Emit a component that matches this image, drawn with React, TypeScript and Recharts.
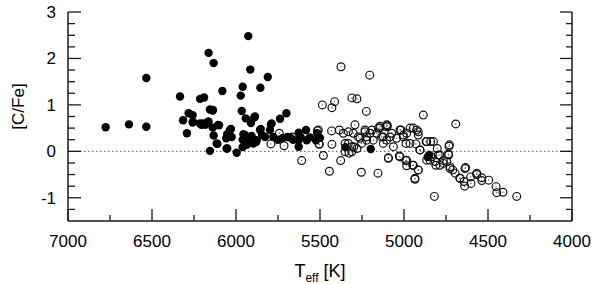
import { ScatterChart, Scatter, XAxis, YAxis, ReferenceLine, Label } from 'recharts'

// Teff [K] and [C/Fe] for the filled (dwarf) sample
const filledTeff = [
  6776, 6637, 6534, 6534, 6333, 6315, 6292, 6282, 6258, 6258, 6214, 6190, 6206, 6183, 6163, 6133,
  6155, 6139, 6163, 6139, 6133, 6111, 6155, 6101, 6081, 6058, 6052, 6030, 6052, 5996, 5972, 5960,
  5966, 5942, 5927, 5915, 5911, 5891, 5956, 5950, 5960, 5936, 5907, 5897, 5877, 5855, 5811, 5853,
  5845, 5827, 5792, 5798, 5778, 5738, 5700, 5722, 5694, 5679, 5627, 5627, 5627, 5615, 5583, 5579,
  5560, 5524, 5516, 5500, 5349, 5198, 4859, 4850, 5905, 5880, 5930, 5960, 5750, 5660, 6256, 6214,
  6196, 6167, 6137, 6107, 6115, 6056, 6036, 6026, 5946, 5887, 5857, 5788,
]
const filledCFe = [
  0.52, 0.58, 0.53, 1.58, 1.18, 0.67, 0.39, 0.82, 0.78, 0.62, 1.13, 1.16, 0.57, 0.57, 2.12, 1.9,
  0.9, 0.88, 0.64, 0.51, 0.34, 0.16, 0.01, 0.56, 1.3, 0.28, 0.37, 0.48, 0.06, -0.03, 1.2, 1.39,
  0.87, 0.71, 2.48, 1.76, 0.61, 0.73, 0.37, 0.21, 0.09, 0.14, 0.33, 0.17, 0.24, 1.37, 1.6, 0.48,
  0.35, 0.31, 0.58, 0.46, 0.31, 0.7, 0.82, 0.29, 0.31, 0.3, 0.4, 0.24, 0.1, 0.31, 0.46, 0.24,
  0.3, 0.24, 0.39, 0.29, 0.09, 0.05, -0.12, -0.08, 0.25, 0.2, 0.27, 0.25, 0.25, 0.25, 0.64, 0.6,
  0.6, 0.64, 0.89, 0.57, 0.17, 0.06, 0.46, 0.31, 0.35, 0.75, 0.46, 0.6,
]

// Teff [K] and [C/Fe] for the open (giant) sample
const openTeff = [
  5792, 5742, 5714, 5665, 5609, 5510, 5506, 5375, 5204, 5486, 5429, 5413, 5310, 5280, 5224, 4885,
  4692, 5516, 5504, 5480, 5444, 5429, 5431, 5385, 5377, 5361, 5331, 5351, 5327, 5311, 5292, 5298,
  5272, 5254, 5252, 5232, 5222, 5202, 5183, 5155, 5153, 5143, 5099, 5133, 5123, 5103, 5093, 5073,
  5063, 5044, 5028, 5018, 5004, 4988, 4984, 4964, 4990, 4984, 4948, 4935, 4915, 4925, 4915, 4929,
  4905, 4869, 4841, 4865, 4835, 4819, 4810, 4802, 4786, 4766, 4746, 4732, 4734, 4726, 4710, 4696,
  4667, 4633, 4643, 4639, 4601, 4603, 4567, 4537, 4537, 4496, 4452, 4448, 4411, 4329, 5302, 5262,
  5232, 5222, 5192, 5163, 5143, 5123, 5103, 5331, 5311, 5280, 5351, 5103, 5024, 4945, 4915, 5083,
  5004, 4964, 4865, 4825, 4730, 4905, 4796, 4736, 5024, 5093, 4984, 4945, 4915, 4935, 4766, 4726,
  4637, 4667, 4567, 4845, 4815, 4786,
]
const openCFe = [
  0.16, 0.39, 0.12, 0.31, -0.2, 0.46, 0.16, 1.82, 1.64, 1.0, 0.94, 1.07, 1.15, 1.13, 0.86, 0.78,
  0.59, 0.44, 0.15, -0.09, -0.43, 0.15, 0.44, 0.46, -0.2, 0.39, 0.42, 0.17, -0.04, -0.01, 0.57, 0.1,
  0.31, -0.45, 0.17, 0.46, 0.31, 0.39, 0.24, -0.47, 0.5, 0.54, 0.55, 0.31, 0.17, 0.24, -0.14, 0.39,
  0.1, 0.28, -0.1, 0.46, 0.35, 0.17, 0.39, 0.5, -0.2, -0.31, -0.3, -0.6, -0.4, 0.46, 0.35, 0.16,
  0.03, 0.21, 0.21, -0.19, -0.12, -0.97, -0.3, 0.06, -0.08, -0.2, -0.22, 0.11, -0.08, -0.33, -0.4, -0.47,
  -0.58, -0.35, -0.65, -0.75, -0.69, -0.55, -0.5, -0.57, -0.63, -0.62, -0.76, -0.89, -0.88, -0.97, 0.39, 0.28,
  0.42, 0.24, 0.46, 0.39, 0.5, 0.31, 0.53, 0.17, 0.1, 0.06, -0.01, 0.57, 0.46, 0.5, 0.42, 0.31,
  0.31, 0.17, 0.21, 0.21, 0.14, 0.03, -0.08, -0.06, -0.12, -0.15, -0.19, -0.3, -0.4, -0.58, -0.26, -0.37,
  -0.37, -0.58, -0.47, -0.19, -0.22, -0.3,
]

const xTicks = [4000, 4250, 4500, 4750, 5000, 5250, 5500, 5750, 6000, 6250, 6500, 6750, 7000]
const xLabelled = [4000, 4500, 5000, 5500, 6000, 6500, 7000]
const yTicks = [-1.25, -1, -0.75, -0.5, -0.25, 0, 0.25, 0.5, 0.75, 1, 1.25, 1.5, 1.75, 2, 2.25, 2.5, 2.75, 3]
const yLabelled = [-1, 0, 1, 2, 3]

const FONT = '"Liberation Sans", Arial, Helvetica, sans-serif'
const INK = '#1a1a1a'

const filled = filledTeff.map((t, i) => ({ t, c: filledCFe[i] }))
const open = openTeff.map((t, i) => ({ t, c: openCFe[i] }))

function FilledDot(props: any) {
  const { cx, cy } = props
  return <circle cx={cx} cy={cy} r={4.2} fill="#000" />
}

function OpenDot(props: any) {
  const { cx, cy } = props
  return (
    <g>
      <circle cx={cx} cy={cy} r={3.9} fill="none" stroke="#111" strokeWidth={1.2} />
      <circle cx={cx} cy={cy} r={0.6} fill="#333" />
    </g>
  )
}

// ticks point inward; labels only on majors
function BottomTick({ x, y, payload }: any) {
  const major = xLabelled.includes(payload.value)
  return (
    <g>
      <line x1={x} y1={y} x2={x} y2={y - (major ? 12 : 6)} stroke={INK} strokeWidth={1.3} />
      {major && (
        <text x={x} y={y + 26} textAnchor="middle" fontSize={17} fontFamily={FONT} fill="#000">
          {payload.value}
        </text>
      )}
    </g>
  )
}

function TopTick({ x, y, payload }: any) {
  const major = xLabelled.includes(payload.value)
  return <line x1={x} y1={y} x2={x} y2={y + (major ? 12 : 6)} stroke={INK} strokeWidth={1.3} />
}

function LeftTick({ x, y, payload }: any) {
  const major = yLabelled.includes(payload.value)
  return (
    <g>
      <line x1={x} y1={y} x2={x + (major ? 13 : 7)} y2={y} stroke={INK} strokeWidth={1.3} />
      {major && (
        <text x={x - 12} y={y} dy="0.35em" textAnchor="end" fontSize={17} fontFamily={FONT} fill="#000">
          {payload.value}
        </text>
      )}
    </g>
  )
}

function RightTick({ x, y, payload }: any) {
  const major = yLabelled.includes(payload.value)
  return <line x1={x} y1={y} x2={x - (major ? 12 : 6)} y2={y} stroke={INK} strokeWidth={1.3} />
}

function XTitle({ viewBox }: any) {
  const cx = viewBox.x + viewBox.width / 2
  return (
    <text x={cx} y={viewBox.y + 56} textAnchor="middle" fontSize={18} fontFamily={FONT} fill="#000">
      T<tspan fontSize={12} dy={5}>eff</tspan>
      <tspan dy={-5}> [K]</tspan>
    </text>
  )
}

function YTitle({ viewBox }: any) {
  const cy = viewBox.y + viewBox.height / 2 - 10
  return (
    <text
      x={18}
      y={cy}
      transform={`rotate(-90, 18, ${cy})`}
      dy="0.35em"
      textAnchor="middle"
      fontSize={17}
      fontFamily={FONT}
      fill="#000"
    >
      [C/Fe]
    </text>
  )
}

export default function App() {
  return (
    <div style={{ position: 'absolute', left: 0, top: 0, width: 600, height: 284, background: '#fff' }}>
      <ScatterChart width={600} height={284} margin={{ top: 12, right: 0, bottom: 0, left: 0 }}>
        <XAxis
          xAxisId="b"
          type="number"
          dataKey="t"
          domain={[4000, 7000]}
          reversed
          ticks={xTicks}
          interval={0}
          height={63}
          tickSize={0}
          tickMargin={0}
          tick={<BottomTick />}
          axisLine={{ stroke: INK, strokeWidth: 1.5 }}
          allowDataOverflow
        >
          <Label content={<XTitle />} />
        </XAxis>
        <XAxis
          xAxisId="t"
          orientation="top"
          type="number"
          dataKey="t"
          domain={[4000, 7000]}
          reversed
          ticks={xTicks}
          interval={0}
          height={0}
          tickSize={0}
          tickMargin={0}
          tick={<TopTick />}
          axisLine={{ stroke: INK, strokeWidth: 1.5 }}
          allowDataOverflow
        />
        <YAxis
          yAxisId="l"
          type="number"
          dataKey="c"
          domain={[-1.5, 3]}
          ticks={yTicks}
          interval={0}
          width={68}
          tickSize={0}
          tickMargin={0}
          tick={<LeftTick />}
          axisLine={{ stroke: INK, strokeWidth: 1.5 }}
          allowDataOverflow
        >
          <Label content={<YTitle />} />
        </YAxis>
        <YAxis
          yAxisId="r"
          orientation="right"
          type="number"
          dataKey="c"
          domain={[-1.5, 3]}
          ticks={yTicks}
          interval={0}
          width={28}
          tickSize={0}
          tickMargin={0}
          tick={<RightTick />}
          axisLine={{ stroke: INK, strokeWidth: 1.5 }}
          allowDataOverflow
        />
        <ReferenceLine xAxisId="b" yAxisId="l" y={0} stroke="#555" strokeWidth={1} strokeDasharray="1.5 2.5" />
        <Scatter xAxisId="b" yAxisId="l" data={filled} shape={<FilledDot />} isAnimationActive={false} />
        <Scatter xAxisId="b" yAxisId="l" data={open} shape={<OpenDot />} isAnimationActive={false} />
      </ScatterChart>
    </div>
  )
}
